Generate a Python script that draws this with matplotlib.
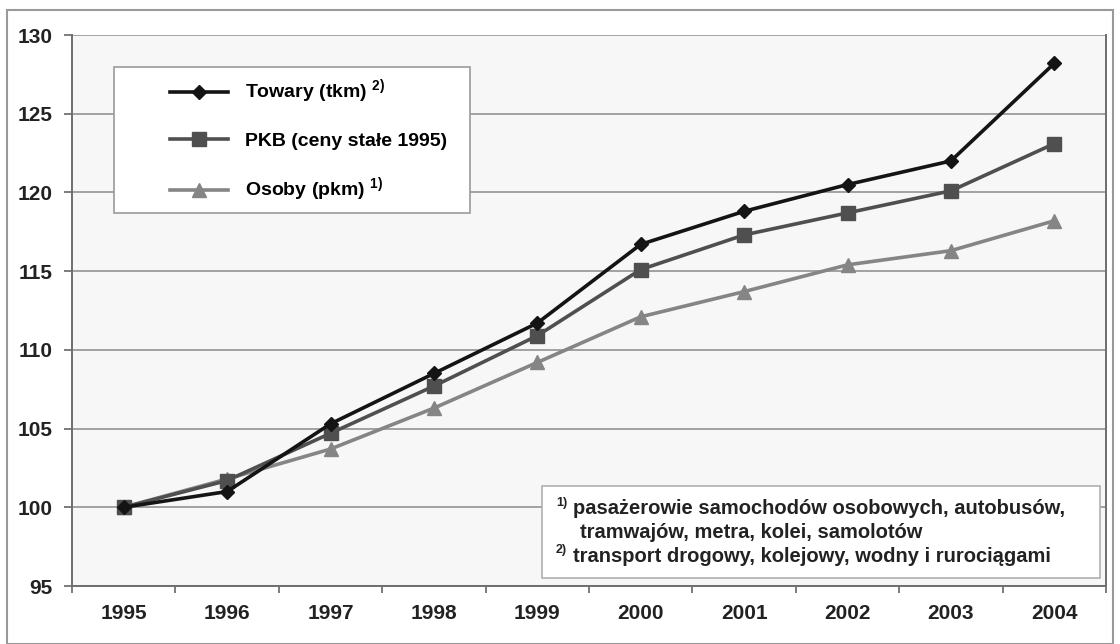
import matplotlib
matplotlib.use("Agg")
import matplotlib.pyplot as plt
from matplotlib.patches import Rectangle

plt.rcParams['font.family'] = ['Liberation Sans', 'DejaVu Sans']
plt.rcParams['font.weight'] = 'bold'
plt.rcParams['mathtext.fontset'] = 'custom'
plt.rcParams['mathtext.rm'] = 'Liberation Sans:bold'
plt.rcParams['mathtext.bf'] = 'Liberation Sans:bold'

# data
years = ['1995', '1996', '1997', '1998', '1999', '2000', '2001', '2002', '2003', '2004']
towary = [100.0, 101.0, 105.3, 108.5, 111.7, 116.7, 118.8, 120.5, 122.0, 128.2]
pkb = [100.0, 101.7, 104.7, 107.7, 110.9, 115.1, 117.3, 118.7, 120.1, 123.1]
osoby = [100.0, 101.8, 103.7, 106.3, 109.2, 112.1, 113.7, 115.4, 116.3, 118.2]

labels = ['Towary (tkm) $^{2)}$', 'PKB (ceny stałe 1995)', 'Osoby (pkm) $^{1)}$']
footnotes = ['pasażerowie samochodów osobowych, autobusów,',
             'tramwajów, metra, kolei, samolotów',
             'transport drogowy, kolejowy, wodny i rurociągami']

fig = plt.figure(figsize=(11.2, 6.44), dpi=100)
fig.patch.set_facecolor('white')
# outer frame around the whole picture
fig.patches.append(Rectangle((7 / 1120, 0.0), 1 - 14 / 1120, 1 - 10 / 644,
                             transform=fig.transFigure, fill=False,
                             edgecolor='#9a9a9a', linewidth=1.5))

ax = fig.add_axes([72 / 1120, 1 - 586 / 644, (1106 - 72) / 1120, (586 - 35) / 644])
ax.set_facecolor('#f7f7f7')

x = range(len(years))
ax.plot(x, towary, color='#141414', linewidth=2.6, marker='D', markersize=7.5, zorder=5)
ax.plot(x, pkb, color='#4f4f4f', linewidth=2.6, marker='s', markersize=10.5, zorder=4)
ax.plot(x, osoby, color='#858585', linewidth=2.6, marker='^', markersize=10.5, zorder=3)

ax.set_xlim(-0.5, 9.5)
ax.set_ylim(95, 130)
ax.set_yticks(range(95, 131, 5))
ax.set_xticks([i - 0.5 for i in range(11)])
ax.set_xticklabels([])
ax.set_xticks(list(x), minor=True)
ax.set_xticklabels(years, minor=True)
ax.tick_params(axis='x', which='minor', length=0, pad=13, labelsize=15)
ax.tick_params(axis='x', which='major', length=5, color='#666666', width=1.2)
ax.tick_params(axis='y', length=6, color='#666666', width=1.2, pad=8, labelsize=15)
ax.yaxis.grid(True, color='#8a8a8a', linewidth=1.1)
ax.set_axisbelow(True)
for side in ['left', 'bottom', 'right', 'top']:
    ax.spines[side].set_color('#6e6e6e')
    ax.spines[side].set_linewidth(1.4)
ax.spines['top'].set_visible(False)
for t in ax.get_yticklabels() + ax.get_xticklabels(minor=True):
    t.set_color('#222222')

# legend box
tr = ax.transAxes
def px(xp, yp):
    return ((xp - 72) / 1034, (586 - yp) / 551)

x0, y0 = px(114, 213)
x1, y1 = px(470, 67)
ax.add_patch(Rectangle((x0, y0), x1 - x0, y1 - y0, transform=tr, facecolor='white',
                       edgecolor='#9a9a9a', linewidth=1.2, zorder=6))
lx, ly = px(162, 70)
leg = ax.legend(ax.get_lines(), labels, loc='upper left', bbox_to_anchor=(lx, ly),
                frameon=False, fontsize=14, handlelength=3.0, handletextpad=0.85,
                labelspacing=1.33, borderaxespad=0)
leg.set_zorder(7)

# footnote box
x0, y0 = px(542, 578)
x1, y1 = px(1100, 486)
ax.add_patch(Rectangle((x0, y0), x1 - x0, y1 - y0, transform=tr, facecolor='white',
                       edgecolor='#b0b0b0', linewidth=1.2, zorder=6))
rows = [(556, 573, 509, '1)', footnotes[0]),
        (None, 580, 532, None, footnotes[1]),
        (556, 573, 556, '2)', footnotes[2])]
for sx, tx, ty, sup, txt in rows:
    if sup:
        ax.text(*px(sx, ty - 6), sup, transform=tr, fontsize=9, ha='left',
                va='center', color='#222222', zorder=7)
    ax.text(*px(tx, ty), txt, transform=tr, fontsize=14.5, ha='left', va='center',
            color='#222222', zorder=7)

fig.savefig('out.png', dpi=100)
